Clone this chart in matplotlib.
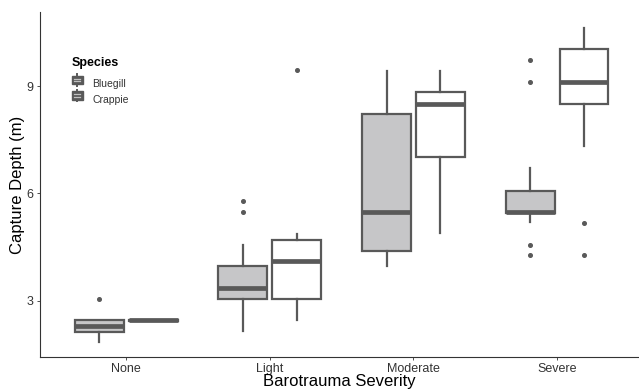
import matplotlib
matplotlib.use("Agg")
import matplotlib.pyplot as plt
from matplotlib.patches import Rectangle
from matplotlib.lines import Line2D
from matplotlib.legend_handler import HandlerBase

plt.rcParams['font.family'] = ['Liberation Sans', 'DejaVu Sans']

# severity levels and species
severity = ["None", "Light", "Moderate", "Severe"]
species = ["Bluegill", "Crappie"]

# box summaries (per severity level)
bluegill_low = [1.85, 2.16, 3.98, 5.20]
bluegill_q1 = [2.13, 3.04, 4.40, 5.45]
bluegill_med = [2.30, 3.36, 5.48, 5.49]
bluegill_q3 = [2.47, 3.98, 8.21, 6.08]
bluegill_high = [2.47, 4.57, 9.42, 6.70]
bluegill_out = [[3.06], [5.48, 5.78], [], [9.73, 9.12, 4.57, 4.27]]

crappie_low = [2.44, 2.47, 4.89, 7.32]
crappie_q1 = [2.44, 3.04, 7.01, 8.51]
crappie_med = [2.45, 4.12, 8.51, 9.12]
crappie_q3 = [2.46, 4.71, 8.83, 10.04]
crappie_high = [2.46, 4.86, 9.42, 10.63]
crappie_out = [[], [9.45], [], [5.18, 4.27]]

edge = "#595959"
fills = {"Bluegill": "#c6c6c8", "Crappie": "#ffffff"}


def make_stats(low, q1, med, q3, high, out):
    return [dict(whislo=a, q1=b, med=c, q3=d, whishi=e, fliers=f)
            for a, b, c, d, e, f in zip(low, q1, med, q3, high, out)]


data = {
    "Bluegill": make_stats(bluegill_low, bluegill_q1, bluegill_med, bluegill_q3, bluegill_high, bluegill_out),
    "Crappie": make_stats(crappie_low, crappie_q1, crappie_med, crappie_q3, crappie_high, crappie_out),
}

fig = plt.figure(figsize=(6.39, 3.89), dpi=100)
ax = fig.add_axes([40 / 639, 32 / 389, 599 / 639, 345 / 389])

offsets = {"Bluegill": -0.1875, "Crappie": 0.1875}
for sp in species:
    pos = [i + offsets[sp] for i in range(len(severity))]
    ax.bxp(data[sp], positions=pos, widths=0.34, showcaps=False, patch_artist=True,
           boxprops=dict(facecolor=fills[sp], edgecolor=edge, linewidth=1.6),
           whiskerprops=dict(color=edge, linewidth=1.6),
           medianprops=dict(color=edge, linewidth=3.4, solid_capstyle='butt'),
           flierprops=dict(marker='o', markersize=2.6, markerfacecolor=edge,
                           markeredgecolor=edge))

ax.set_xlim(-0.6, 3.57)
ax.set_ylim(1.43, 11.07)
ax.set_xticks(range(len(severity)))
ax.set_xticklabels(severity)
ax.set_yticks([3, 6, 9])
ax.set_yticklabels(["3", "6", "9"])
ax.tick_params(axis='both', labelsize=9, labelcolor='#333333', color='#333333',
               length=2.5, width=0.6, pad=2)
for s in ["top", "right"]:
    ax.spines[s].set_visible(False)
for s in ["left", "bottom"]:
    ax.spines[s].set_color('#333333')
    ax.spines[s].set_linewidth(0.8)

ax.set_xlabel("Barotrauma Severity", fontsize=12, labelpad=-1)
ax.set_ylabel("Capture Depth (m)", fontsize=12, labelpad=1)


class BoxKey(HandlerBase):
    def create_artists(self, legend, orig, xd, yd, w, h, fs, trans):
        cx = xd + w / 2
        wh = Line2D([cx, cx], [yd - h * 0.05, yd + h * 1.05], color=edge, lw=1.4, transform=trans)
        rect = Rectangle((xd, yd + h * 0.12), w, h * 0.76, facecolor=edge, edgecolor=edge,
                         lw=1, transform=trans)
        m1 = Line2D([xd + 2, xd + w - 2], [yd + h * 0.6] * 2, color='#c0c0c0', lw=0.9, transform=trans)
        m2 = Line2D([xd + 2, xd + w - 2], [yd + h * 0.4] * 2, color='#c0c0c0', lw=0.9, transform=trans)
        return [wh, rect, m1, m2]


handles = [Rectangle((0, 0), 1, 1) for _ in species]
leg = ax.legend(handles, species, title="Species", loc='upper left',
                bbox_to_anchor=(0.044, 0.885), frameon=False, fontsize=7.5,
                title_fontproperties=dict(weight='bold', size=9),
                handler_map={Rectangle: BoxKey()}, handlelength=1.1,
                handleheight=1.2, handletextpad=0.9, labelspacing=0.42,
                alignment='left', borderpad=0)
leg._legend_box.sep = 7  # more room under the title
for t in leg.get_texts():
    t.set_color('#333333')

fig.savefig("out.png", dpi=100)
